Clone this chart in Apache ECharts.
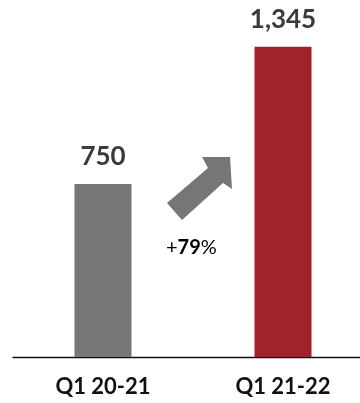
<!DOCTYPE html>
<html>
<head>
<meta charset="utf-8">
<script src="https://cdn.jsdelivr.net/npm/echarts@6/dist/echarts.min.js"></script>
<style>
  html, body { margin: 0; padding: 0; background: #fff; }
  #chart { width: 360px; height: 403px; }
</style>
</head>
<body>
<div id="chart"></div>
<script>
// Quarterly totals, same quarter year over year
const categories = ['Q1 20-21', 'Q1 21-22'];
const values = [750, 1345];
const barColors = ['#767676', '#A0232C'];
const growthLabel = ['+', '79', '%'];

const chart = echarts.init(document.getElementById('chart'));

chart.setOption({
  animation: false,
  // plot area runs past the right edge so the two bands are 180px wide
  grid: { left: 13, width: 360, top: 11, bottom: 46, containLabel: false, outerBoundsMode: 'none' },
  xAxis: {
    type: 'category',
    data: categories,
    axisLine: { lineStyle: { color: '#111', width: 1.3 } },
    axisTick: { show: false },
    axisLabel: {
      margin: 19,
      fontFamily: 'Lato',
      fontWeight: 'bold',
      fontSize: 22,
      color: '#111'
    }
  },
  yAxis: {
    type: 'value',
    min: 0,
    max: 1500,
    show: false,
    splitLine: { show: false }
  },
  series: [{
    type: 'bar',
    barWidth: 57,
    data: values.map((v, i) => ({ value: v, itemStyle: { color: barColors[i] } })),
    label: {
      show: true,
      position: 'top',
      distance: 14,
      fontFamily: 'Lato',
      fontWeight: 'bold',
      fontSize: 26,
      color: '#3b3b3b',
      formatter: p => p.value.toLocaleString('en-US')
    }
  }],
  graphic: [
    {
      // growth arrow between the two bars
      type: 'polygon',
      shape: {
        points: [[230, 157], [232, 189], [223, 183], [182, 220], [167, 203], [208, 168], [202, 157]]
      },
      style: { fill: '#767676' }
    },
    {
      type: 'text',
      left: 166,
      top: 238,
      style: {
        text: '{r|' + growthLabel[0] + '}{b|' + growthLabel[1] + '}{r|' + growthLabel[2] + '}',
        rich: {
          r: { fontFamily: 'Lato', fontSize: 20, color: '#111' },
          b: { fontFamily: 'Lato', fontWeight: 'bold', fontSize: 20, color: '#111' }
        }
      }
    }
  ]
});
</script>
</body>
</html>
